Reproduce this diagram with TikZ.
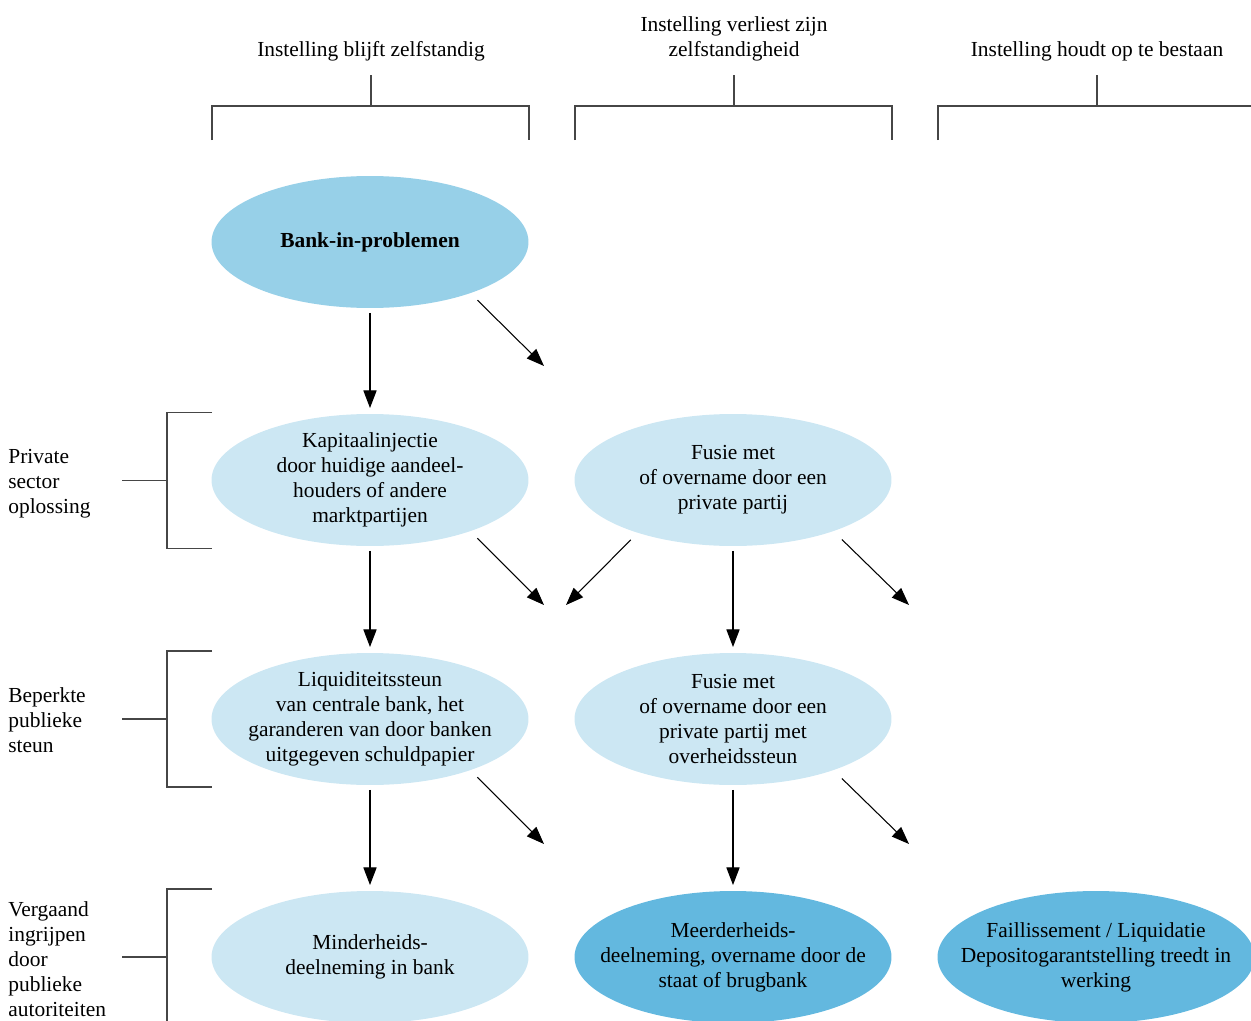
\documentclass[tikz,border=0pt]{standalone}
\usepackage{fontspec}
\setmainfont{Liberation Serif}
\usetikzlibrary{shapes.geometric,arrows.meta}
\definecolor{blauwtop}{RGB}{151,208,232}
\definecolor{blauwlicht}{RGB}{204,231,243}
\definecolor{blauwdonker}{RGB}{99,184,223}
\definecolor{lijngrijs}{RGB}{70,70,70}

\begin{document}
\begin{tikzpicture}[x=0.02cm, y=-0.02cm, >={Triangle[length=10pt,width=7.5pt]},
		font=\fontsize{12.2}{14.2}\selectfont,
		optie/.style={ellipse, minimum width=6.34cm, minimum height=2.64cm, inner xsep=-22pt, inner ysep=-6pt,
			outer sep=0pt, align=center, fill=blauwlicht},
		kop/.style={anchor=south, inner sep=0pt, align=center},
		zijlabel/.style={anchor=west, inner sep=0pt, align=left},
		pijl/.style={->, line width=0.6pt},
		haak/.style={lijngrijs, line width=0.6pt}]
		\useasboundingbox (0,0) rectangle (1251,1021);
		% headings and brackets on top
		\node[kop] (zelf) at (371,61) {Instelling blijft zelfstandig};
		\node[kop] (verlies) at (734,61) {Instelling verliest zijn\\zelfstandigheid};
		\node[kop] (einde) at (1097,61) {Instelling houdt op te bestaan};
		\foreach \m in {371,734,1097}
			\draw[haak] (\m-159,140) -- (\m-159,106) -- (\m+158,106) -- (\m+158,140) (\m,106) -- (\m,75);
		% side labels and brackets
		\node[zijlabel] (privaat) at (8,484) {Private\\sector\\oplossing};
		\node[zijlabel] (beperkt) at (8,720) {Beperkte\\publieke\\steun};
		\node[zijlabel] (vergaand) at (8,959) {Vergaand\\ingrijpen\\door\\publieke\\autoriteiten};
		\foreach \y in {480.5,719,957}
			\draw[haak] (212,\y-68) -- (167,\y-68) -- (167,\y+68) -- (212,\y+68) (167,\y) -- (122,\y);
		% ellipses
		\node[optie, fill=blauwtop] (bank) at (370,242) {\textbf{Bank-in-problemen}};
		\node[optie] (kapitaal) at (370,480) {Kapitaalinjectie\\door huidige aandeel-\\houders of andere\\marktpartijen};
		\node[optie] (fusie) at (733,480) {Fusie met\\of overname door een\\private partij};
		\node[optie] (liquiditeit) at (370,719) {Liquiditeitssteun\\van centrale bank, het\\garanderen van door banken\\uitgegeven schuldpapier};
		\node[optie] (fusiesteun) at (733,719) {Fusie met\\of overname door een\\private partij met\\overheidssteun};
		\node[optie] (minder) at (370,957) {Minderheids-\\deelneming in bank};
		\node[optie, fill=blauwdonker] (meer) at (733,957) {Meerderheids-\\deelneming, overname door de\\staat of brugbank};
		\node[optie, fill=blauwdonker] (failliet) at (1096,957) {Faillissement / Liquidatie\\Depositogarantstelling treedt in\\werking};
		% free ends of the diagonal arrows
		\coordinate (v1) at (544,366);
		\coordinate (v2) at (544,605);
		\coordinate (v3) at (566,605);
		\coordinate (v4) at (909,605);
		\coordinate (v5) at (544,844);
		\coordinate (v6) at (909,844);
		% vertical arrows
		\draw[pijl, shorten <=0.1cm, shorten >=0.12cm] (bank) -- (kapitaal);
		\draw[pijl, shorten <=0.1cm, shorten >=0.12cm] (kapitaal) -- (liquiditeit);
		\draw[pijl, shorten <=0.1cm, shorten >=0.12cm] (liquiditeit) -- (minder);
		\draw[pijl, shorten <=0.1cm, shorten >=0.12cm] (fusie) -- (fusiesteun);
		\draw[pijl, shorten <=0.1cm, shorten >=0.12cm] (fusiesteun) -- (meer);
		% diagonal arrows
		\draw[pijl, shorten <=0.2cm] (bank.-27) -- (v1);
		\draw[pijl, shorten <=0.2cm] (kapitaal.-27) -- (v2);
		\draw[pijl, shorten <=0.2cm] (fusie.-151) -- (v3);
		\draw[pijl, shorten <=0.24cm] (fusie.-27) -- (v4);
		\draw[pijl, shorten <=0.2cm] (liquiditeit.-27) -- (v5);
		\draw[pijl, shorten <=0.24cm] (fusiesteun.-27) -- (v6);
	\end{tikzpicture}
\end{document}
